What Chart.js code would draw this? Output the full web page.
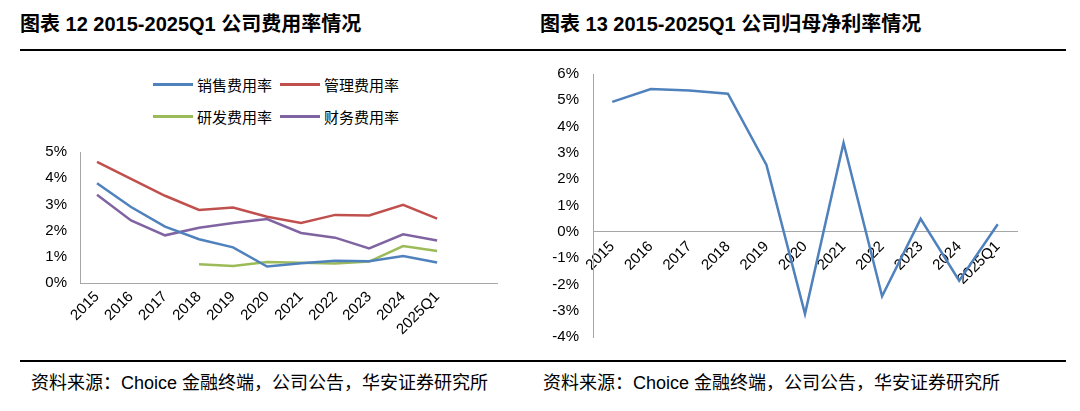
<!DOCTYPE html>
<html>
<head>
<meta charset="utf-8">
<script src="https://cdn.jsdelivr.net/npm/chart.js"></script>
<style>
  html, body { margin: 0; padding: 0; background: #fff; }
  body { width: 1080px; height: 411px; position: relative; overflow: hidden;
         font-family: "Liberation Sans", Arial, "Noto Sans CJK SC", sans-serif; color: #000; }
  .title { position: absolute; top: 8px; font-size: 20px; font-weight: bold; white-space: nowrap; }
  .rule { position: absolute; left: 20px; width: 1046px; height: 2px; background: #000; }
  .source { position: absolute; top: 368px; font-size: 18px; white-space: nowrap; }
  .box { position: absolute; }
  .legend { position: absolute; font-size: 15px; white-space: nowrap; }
  .legend .item { position: absolute; display: flex; align-items: center; }
  .legend .swatch { display: inline-block; width: 40px; height: 3px; margin-right: 4px; }
</style>
</head>
<body>
<div class="title" style="left:20px">图表 12 2015-2025Q1 公司费用率情况</div>
<div class="title" style="left:540px">图表 13 2015-2025Q1 公司归母净利率情况</div>
<div class="rule" style="top:49px"></div>

<div class="legend" id="legend"></div>
<div class="box" style="left:20px; top:130px; width:500px; height:225px"><canvas id="costChart"></canvas></div>
<div class="box" style="left:540px; top:51px; width:520px; height:309px"><canvas id="profitChart"></canvas></div>

<div class="rule" style="top:360px"></div>
<div class="source" style="left:31px">资料来源：Choice 金融终端，公司公告，华安证券研究所</div>
<div class="source" style="left:543px">资料来源：Choice 金融终端，公司公告，华安证券研究所</div>

<script>
const years = ['2015', '2016', '2017', '2018', '2019', '2020', '2021', '2022', '2023', '2024', '2025Q1'];

// 费用率 (%)
const salesRate   = [3.81, 2.90, 2.15, 1.67, 1.36, 0.63, 0.75, 0.85, 0.83, 1.03, 0.78];
const adminRate   = [4.62, 3.97, 3.33, 2.79, 2.88, 2.53, 2.29, 2.60, 2.58, 2.98, 2.46];
const rdRate      = [null, null, null, 0.72, 0.65, 0.80, 0.77, 0.74, 0.82, 1.41, 1.22];
const financeRate = [3.37, 2.39, 1.82, 2.11, 2.29, 2.44, 1.91, 1.73, 1.32, 1.86, 1.62];

// 归母净利率 (%)
const netMargin = [4.94, 5.43, 5.37, 5.25, 2.54, -3.12, 3.38, -2.45, 0.49, -1.86, 0.29];

const costTicks = [0, 1, 2, 3, 4, 5];
const profitTicks = [-4, -3, -2, -1, 0, 1, 2, 3, 4, 5, 6];

Chart.defaults.font.family = '"Liberation Sans", Arial, "Noto Sans CJK SC", sans-serif';
Chart.defaults.font.size = 15;
Chart.defaults.color = '#000';

const series = [
  { label: '销售费用率', data: salesRate,   color: '#4F81BD' },
  { label: '管理费用率', data: adminRate,   color: '#C0504D' },
  { label: '研发费用率', data: rdRate,      color: '#9BBB59' },
  { label: '财务费用率', data: financeRate, color: '#8064A2' }
];

// legend, two rows like the original
const legendEl = document.getElementById('legend');
const legendPos = [[153, 74], [280, 74], [153, 106], [280, 106]];
series.forEach((s, i) => {
  const item = document.createElement('div');
  item.className = 'item';
  item.style.left = legendPos[i][0] + 'px';
  item.style.top = legendPos[i][1] + 'px';
  item.innerHTML = '<span class="swatch" style="background:' + s.color + '"></span><span>' + s.label + '</span>';
  legendEl.appendChild(item);
});

const axisGrey = '#A6A6A6';

new Chart(document.getElementById('costChart'), {
  type: 'line',
  data: {
    datasets: series.map(s => ({
      label: s.label,
      data: s.data.map((v, i) => ({ x: i, y: v })),
      borderColor: s.color,
      backgroundColor: s.color,
      borderWidth: 2.5,
      pointRadius: 0,
      tension: 0,
      spanGaps: false
    }))
  },
  options: {
    responsive: true,
    maintainAspectRatio: false,
    animation: false,
    layout: { padding: { top: 20, right: 23, left: 0, bottom: 0 } },
    plugins: { legend: { display: false }, tooltip: { enabled: false } },
    scales: {
      x: {
        type: 'linear',
        min: -0.5,
        max: 11.76,
        afterFit: s => { s.height = 72; },
        afterBuildTicks: s => { s.ticks = years.map((_, i) => ({ value: i })); },
        grid: { drawOnChartArea: false, drawTicks: false },
        border: { color: axisGrey, width: 1 },
        ticks: {
          autoSkip: false,
          minRotation: 45,
          maxRotation: 45,
          padding: 5,
          callback: v => years[v] ?? ''
        }
      },
      y: {
        min: 0,
        max: 5,
        afterFit: s => { s.width = 60; },
        afterBuildTicks: s => { s.ticks = costTicks.map(v => ({ value: v })); },
        grid: { drawOnChartArea: false, drawTicks: false },
        border: { color: axisGrey, width: 1 },
        ticks: { padding: 13, callback: v => v + '%' }
      }
    }
  }
});

new Chart(document.getElementById('profitChart'), {
  type: 'line',
  data: {
    labels: years,
    datasets: [{
      label: '归母净利率',
      data: netMargin,
      borderColor: '#4F81BD',
      borderWidth: 2.5,
      pointRadius: 0,
      tension: 0
    }]
  },
  options: {
    responsive: true,
    maintainAspectRatio: false,
    animation: false,
    layout: { padding: { top: 15, right: 43, left: 0, bottom: 9 } },
    plugins: { legend: { display: false }, tooltip: { enabled: false } },
    scales: {
      x: {
        position: { y: 0 },
        offset: true,
        grid: { drawOnChartArea: false, drawTicks: false, offset: true },
        border: { color: axisGrey, width: 1 },
        ticks: { autoSkip: false, minRotation: 45, maxRotation: 45, padding: 6 }
      },
      y: {
        min: -4,
        max: 6,
        afterFit: s => { s.width = 53; },
        afterBuildTicks: s => { s.ticks = profitTicks.map(v => ({ value: v })); },
        grid: { drawOnChartArea: false, drawTicks: false },
        border: { color: axisGrey, width: 1 },
        ticks: { padding: 14, callback: v => v + '%' }
      }
    }
  }
});
</script>
</body>
</html>
